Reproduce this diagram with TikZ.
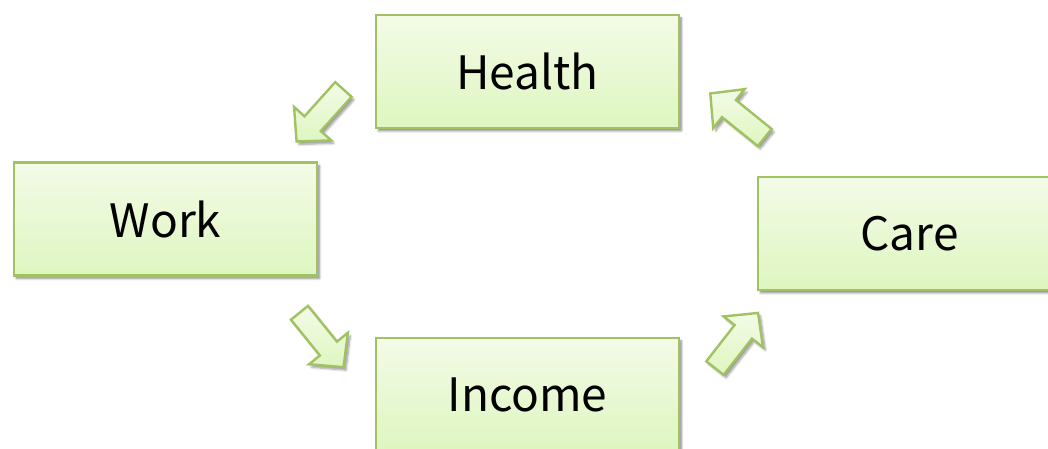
\documentclass[tikz,border=0pt]{standalone}
\usepackage{fontspec}
\setmainfont{Noto Sans CJK JP}
\usetikzlibrary{shadows.blur}
\definecolor{boxline}{RGB}{160,194,98}
\definecolor{filltop}{RGB}{243,251,231}
\definecolor{fillbot}{RGB}{222,246,192}
\tikzset{
  x=1pt, y=1pt,
  topic/.style={draw=boxline, line width=2.8pt, top color=filltop, bottom color=fillbot,
    minimum width=303pt, minimum height=113pt, inner sep=0pt,
    font=\fontsize{46}{54}\selectfont,
    blur shadow={shadow xshift=2.5pt, shadow yshift=-3pt, shadow blur steps=6, shadow opacity=45}},
  flowarrow/.style={draw=boxline, line width=2.4pt, top color=filltop, bottom color=fillbot,
    line join=miter,
    blur shadow={shadow xshift=2.5pt, shadow yshift=-3pt, shadow blur steps=6, shadow opacity=40}},
  pics/blockarrow/.style={code={
    \path[flowarrow] (-35,-11) -- (11,-11) -- (11,-25) -- (35,0) -- (11,25) -- (11,11) -- (-35,11) -- cycle;
  }}
}
\begin{document}
\begin{tikzpicture}
\useasboundingbox (0,0) rectangle (1048,449);
\node[topic] (health) at (527.5,377.5) {Health};
\node[topic] (work)   at (165.5,230)   {Work};
\node[topic] (care)   at (909.5,215.5) {Care};
\node[topic] (income) at (527.5,54.5)  {Income};
% block arrows running round the cycle
\pic[rotate=228] at (320,333.5)   {blockarrow};
\pic[rotate=-51] at (321.5,109)   {blockarrow};
\pic[rotate=52]  at (736.5,108.5) {blockarrow};
\pic[rotate=141] at (737.5,333.5) {blockarrow};
\end{tikzpicture}
\end{document}
